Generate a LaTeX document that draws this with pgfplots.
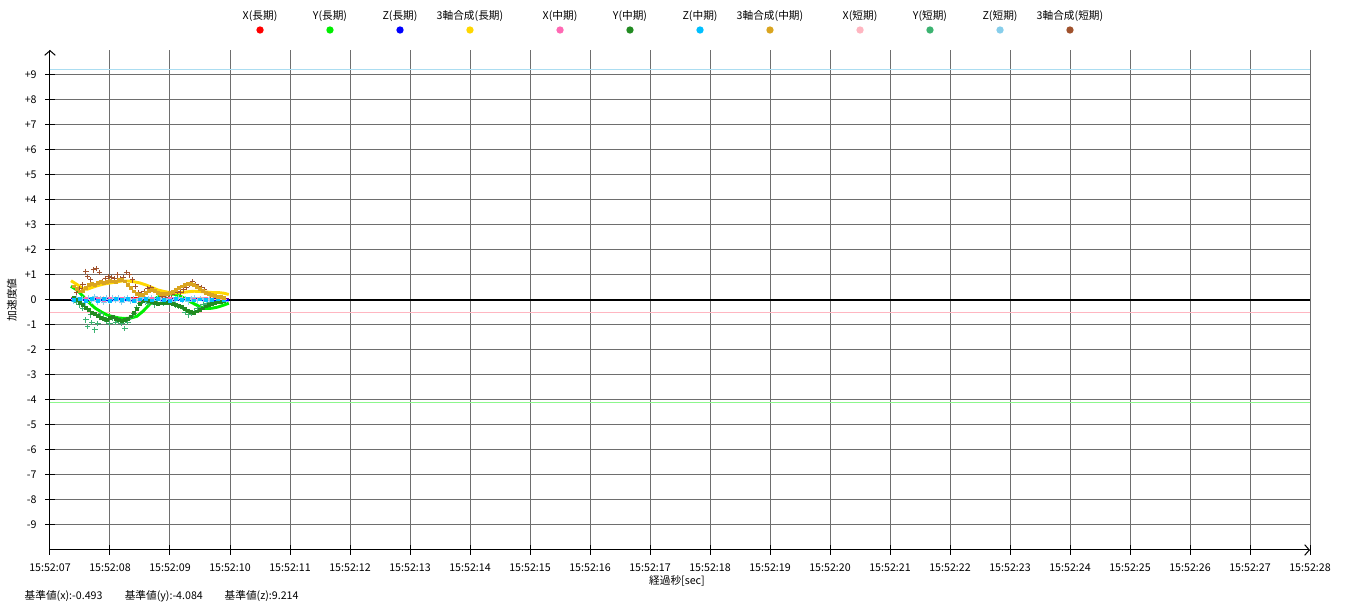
\documentclass[border=0pt]{standalone}
\usepackage{fontspec}
\setmainfont{Noto Sans CJK JP}
\usepackage{pgfplots}
\pgfplotsset{compat=1.18}
\usetikzlibrary{arrows.meta}

\definecolor{cXL}{HTML}{FF0000}
\definecolor{cYL}{HTML}{00EE00}
\definecolor{cZL}{HTML}{0000FF}
\definecolor{cSL}{HTML}{FFD700}
\definecolor{cXM}{HTML}{FF69B4}
\definecolor{cYM}{HTML}{228B22}
\definecolor{cZM}{HTML}{00BFFF}
\definecolor{cSM}{HTML}{DAA520}
\definecolor{cXS}{HTML}{FFB6C1}
\definecolor{cYS}{HTML}{3CB371}
\definecolor{cZS}{HTML}{87CEEB}
\definecolor{cSS}{HTML}{A0522D}
\definecolor{gridgray}{HTML}{6E6E6E}

\pgfplotsset{
  longp/.style={no marks, line width=2.2pt},
  midp/.style={only marks, mark=square*, mark size=1pt},
  shortp/.style={only marks, mark=+, mark size=1.9pt, line width=0.75pt},
}

\newcommand{\legitem}[3]{%
  \node[anchor=center, font=\fontsize{8}{9}\selectfont] at (axis description cs:#1,1.068) {#3};
  \node[circle, fill=#2, inner sep=0pt, minimum size=5.5pt] at (axis description cs:#1,1.04) {};
}

\begin{document}
\begin{tikzpicture}
\path[use as bounding box] (-37.5pt,-45pt) rectangle (975pt,412.5pt);
\begin{axis}[
  scale only axis, width=945pt, height=375pt,
  xmin=0, xmax=21, ymin=-10, ymax=10,
  axis lines=left,
  axis line style={line width=0.75pt, -{Straight Barb[length=3.5pt,width=8pt]}},
  clip=false,
  xtick={0,...,21},
  xticklabels={15:52:07,15:52:08,15:52:09,15:52:10,15:52:11,15:52:12,15:52:13,15:52:14,15:52:15,15:52:16,15:52:17,15:52:18,15:52:19,15:52:20,15:52:21,15:52:22,15:52:23,15:52:24,15:52:25,15:52:26,15:52:27,15:52:28},
  ytick={-9,...,9},
  yticklabels={-9,-8,-7,-6,-5,-4,-3,-2,-1,0,+1,+2,+3,+4,+5,+6,+7,+8,+9},
  tick label style={font=\fontsize{8}{9}\selectfont},
  xticklabel style={yshift=-3pt},
  yticklabel style={xshift=-3pt},
  tick align=center, major tick length=7pt,
  tick style={black, line width=0.75pt},
  grid=major, major grid style={gridgray, line width=0.75pt},
  xlabel={経過秒[sec]},
  xlabel style={at={(axis description cs:0.4976,-0.062)}, anchor=center, font=\fontsize{8}{9}\selectfont},
  ylabel={加速度値},
  ylabel style={at={(axis description cs:-0.0302,0.5)}, anchor=center, font=\fontsize{8}{9}\selectfont},
]

% reference lines
\addplot[black, line width=1.1pt] coordinates {(0,0) (21,0)};
\addplot[cXS, line width=0.75pt] coordinates {(0,-0.493) (21,-0.493)};
\addplot[cYL!45!white, line width=0.75pt] coordinates {(0,-4.084) (21,-4.084)};
\addplot[cZS!70!white, line width=0.75pt] coordinates {(0,9.214) (21,9.214)};

% short
\addplot[shortp, cXS] coordinates {
(0.4,0.03) (0.5,-0.02) (0.6,0.05) (0.7,0.02) (0.8,-0.03) (0.9,0.06) (1.0,0.01) (1.1,0.04) (1.2,-0.02) (1.3,0.05)
(1.4,0.02) (1.5,0.0) (1.6,0.04) (1.7,0.03) (1.8,-0.01) (1.9,0.05) (2.0,0.02) (2.1,0.03) (2.2,0.06) (2.3,0.01)
(2.4,0.03) (2.5,0.05) (2.6,0.0) (2.7,0.03) (2.8,0.02) (2.9,0.01)};
\addplot[shortp, cYS] coordinates {
(0.45,-0.1) (0.5,-0.2) (0.55,-0.35) (0.6,-0.8) (0.63,-1.05) (0.67,-0.6) (0.7,-0.9) (0.75,-1.2) (0.8,-0.95) (0.85,-0.55)
(0.9,-0.7) (0.95,-0.85) (1.0,-0.95) (1.05,-0.75) (1.1,-0.9) (1.15,-0.85) (1.2,-0.95) (1.25,-1.15) (1.3,-0.9) (1.35,-0.7)
(1.4,-0.55) (1.45,-0.3) (1.5,-0.15) (1.55,-0.05) (1.6,-0.1) (1.65,-0.15) (1.7,-0.1) (1.75,-0.2) (1.8,-0.15) (1.85,-0.1)
(1.9,-0.12) (1.95,-0.05) (2.0,-0.1) (2.05,-0.15) (2.1,-0.2) (2.15,-0.25) (2.2,-0.3) (2.25,-0.5) (2.3,-0.6) (2.35,-0.55)
(2.4,-0.45) (2.45,-0.35) (2.5,-0.3) (2.55,-0.2) (2.6,-0.15) (2.65,-0.1)};
\addplot[shortp, cZS] coordinates {
(0.4,-0.05) (0.45,0.08) (0.5,-0.1) (0.55,0.05) (0.6,-0.12) (0.65,0.1) (0.7,-0.04) (0.75,0.12) (0.8,-0.08) (0.85,0.06)
(0.9,-0.1) (0.95,0.09) (1.0,-0.06) (1.05,0.11) (1.1,-0.02) (1.15,0.08) (1.2,-0.09) (1.25,0.05) (1.3,0.1) (1.35,-0.05)
(1.4,0.07) (1.45,-0.03) (1.5,0.06) (1.55,0.1) (1.6,-0.04) (1.65,0.05) (1.7,0.08) (1.75,-0.02) (1.8,0.06) (1.85,0.03)
(1.9,-0.05) (1.95,0.07) (2.0,0.02) (2.05,-0.06) (2.1,0.05) (2.15,0.09) (2.2,-0.03) (2.25,0.06) (2.3,-0.08) (2.35,0.04)
(2.4,0.08) (2.45,-0.04) (2.5,0.05) (2.55,0.02) (2.6,-0.03) (2.65,0.04)};
\addplot[shortp, cSS] coordinates {
(0.45,0.3) (0.5,0.45) (0.55,0.6) (0.6,1.15) (0.63,0.95) (0.68,0.8) (0.72,1.2) (0.78,1.25) (0.82,1.1) (0.88,0.75)
(0.92,0.85) (0.97,0.95) (1.02,0.9) (1.07,0.85) (1.12,1.0) (1.17,0.85) (1.22,0.9) (1.27,1.1) (1.32,1.0) (1.37,0.8)
(1.42,0.55) (1.47,0.3) (1.52,0.25) (1.57,0.35) (1.62,0.45) (1.67,0.5) (1.72,0.4) (1.77,0.3) (1.82,0.2) (1.87,0.15)
(1.92,0.2) (1.97,0.1) (2.02,0.2) (2.07,0.3) (2.12,0.35) (2.17,0.3) (2.22,0.4) (2.27,0.5) (2.32,0.62) (2.37,0.72)
(2.42,0.6) (2.47,0.55) (2.52,0.5) (2.57,0.4) (2.62,0.25) (2.67,0.2) (2.72,0.15)};

% mid
\addplot[midp, cXM] coordinates {
(0.4,0.04) (0.5,0.02) (0.6,0.05) (0.7,0.03) (0.8,0.04) (0.9,0.02) (1.0,0.05) (1.1,0.03) (1.2,0.06) (1.3,0.04)
(1.4,0.03) (1.5,0.02) (1.6,0.04) (1.7,0.05) (1.8,0.03) (1.9,0.02) (2.0,0.04) (2.1,0.05) (2.2,0.03) (2.3,0.04)
(2.4,0.02) (2.5,0.03) (2.6,0.05) (2.7,0.03) (2.8,0.02) (2.9,0.03)};
\addplot[midp, cYM] coordinates {
(0.4,0.1) (0.45,0.0) (0.5,-0.12) (0.55,-0.2) (0.6,-0.3) (0.65,-0.4) (0.7,-0.5) (0.75,-0.55) (0.8,-0.62) (0.85,-0.7)
(0.9,-0.75) (0.95,-0.8) (1.0,-0.72) (1.05,-0.68) (1.1,-0.75) (1.15,-0.8) (1.2,-0.82) (1.25,-0.8) (1.3,-0.76) (1.35,-0.65)
(1.4,-0.5) (1.45,-0.35) (1.5,-0.15) (1.55,-0.05) (1.6,0.0) (1.65,-0.02) (1.7,-0.08) (1.75,-0.12) (1.8,-0.14) (1.85,-0.13)
(1.9,-0.12) (1.95,-0.1) (2.0,-0.12) (2.05,-0.16) (2.1,-0.2) (2.15,-0.22) (2.2,-0.28) (2.25,-0.35) (2.3,-0.42) (2.35,-0.48)
(2.4,-0.5) (2.45,-0.45) (2.5,-0.4) (2.55,-0.33) (2.6,-0.25) (2.65,-0.2) (2.7,-0.15) (2.75,-0.1) (2.8,-0.08) (2.85,-0.06) (2.9,-0.05)};
\addplot[midp, cZM] coordinates {
(0.4,0.0) (0.5,0.05) (0.6,-0.04) (0.7,0.06) (0.8,-0.02) (0.9,0.05) (1.0,-0.03) (1.1,0.04) (1.2,0.0) (1.3,0.06)
(1.4,-0.02) (1.5,0.03) (1.6,0.05) (1.7,-0.01) (1.8,0.04) (1.9,0.02) (2.0,-0.02) (2.1,0.05) (2.2,0.01) (2.3,0.04)
(2.4,-0.01) (2.5,0.03) (2.6,0.02) (2.7,0.0) (2.8,0.03) (2.9,0.01)};
\addplot[midp, cSM] coordinates {
(0.4,0.55) (0.45,0.45) (0.5,0.35) (0.55,0.38) (0.6,0.5) (0.65,0.6) (0.7,0.66) (0.75,0.62) (0.8,0.7) (0.85,0.74)
(0.9,0.68) (0.95,0.72) (1.0,0.78) (1.05,0.75) (1.1,0.72) (1.15,0.8) (1.2,0.82) (1.25,0.75) (1.3,0.62) (1.35,0.48)
(1.4,0.35) (1.45,0.25) (1.5,0.2) (1.55,0.22) (1.6,0.3) (1.65,0.36) (1.7,0.4) (1.75,0.38) (1.8,0.3) (1.85,0.25)
(1.9,0.24) (1.95,0.26) (2.0,0.3) (2.05,0.33) (2.1,0.4) (2.15,0.48) (2.2,0.55) (2.25,0.62) (2.3,0.66) (2.35,0.64)
(2.4,0.6) (2.45,0.52) (2.5,0.45) (2.55,0.38) (2.6,0.3) (2.65,0.24) (2.7,0.2) (2.75,0.16) (2.8,0.14) (2.85,0.12) (2.9,0.1)};

% long
\addplot[longp, cXL] coordinates {
(0.35,0.05) (0.6,0.04) (1.0,0.03) (1.35,0.06) (1.7,0.03) (2.2,0.04) (2.98,0.02)};
\addplot[longp, cYL] coordinates {
(0.35,0.55) (0.45,0.4) (0.55,0.15) (0.65,-0.1) (0.75,-0.32) (0.85,-0.47) (0.95,-0.6) (1.05,-0.67) (1.15,-0.72) (1.25,-0.74)
(1.35,-0.72) (1.45,-0.65) (1.55,-0.45) (1.65,-0.2) (1.72,0.0) (1.8,0.12) (1.9,0.2) (2.0,0.25) (2.1,0.22) (2.2,0.12)
(2.3,-0.02) (2.4,-0.15) (2.5,-0.27) (2.6,-0.34) (2.7,-0.33) (2.8,-0.28) (2.9,-0.2) (2.98,-0.13)};
\addplot[longp, cZL] coordinates {
(0.35,0.03) (0.6,0.02) (1.0,0.01) (1.5,0.02) (2.0,0.03) (2.5,0.02) (2.98,0.0)};
\addplot[longp, cSL] coordinates {
(0.35,0.77) (0.45,0.62) (0.55,0.45) (0.62,0.43) (0.7,0.5) (0.8,0.58) (0.9,0.64) (1.0,0.68) (1.1,0.72) (1.2,0.76)
(1.3,0.76) (1.4,0.73) (1.5,0.68) (1.6,0.6) (1.7,0.5) (1.8,0.4) (1.9,0.34) (2.0,0.3) (2.1,0.28) (2.2,0.3)
(2.3,0.33) (2.4,0.35) (2.5,0.34) (2.6,0.32) (2.7,0.3) (2.8,0.3) (2.9,0.27) (2.98,0.22)};

% legend
\legitem{0.1667}{cXL}{X(長期)}
\legitem{0.2222}{cYL}{Y(長期)}
\legitem{0.2778}{cZL}{Z(長期)}
\legitem{0.3333}{cSL}{3軸合成(長期)}
\legitem{0.4048}{cXM}{X(中期)}
\legitem{0.4603}{cYM}{Y(中期)}
\legitem{0.5159}{cZM}{Z(中期)}
\legitem{0.5714}{cSM}{3軸合成(中期)}
\legitem{0.6429}{cXS}{X(短期)}
\legitem{0.6984}{cYS}{Y(短期)}
\legitem{0.7540}{cZS}{Z(短期)}
\legitem{0.8095}{cSS}{3軸合成(短期)}

% reference values
\node[anchor=west, font=\fontsize{8}{9}\selectfont] at (axis description cs:-0.0238,-0.092) {基準値(x):-0.493};
\node[anchor=west, font=\fontsize{8}{9}\selectfont] at (axis description cs:0.0556,-0.092) {基準値(y):-4.084};
\node[anchor=west, font=\fontsize{8}{9}\selectfont] at (axis description cs:0.1349,-0.092) {基準値(z):9.214};
\end{axis}
\end{tikzpicture}
\end{document}
